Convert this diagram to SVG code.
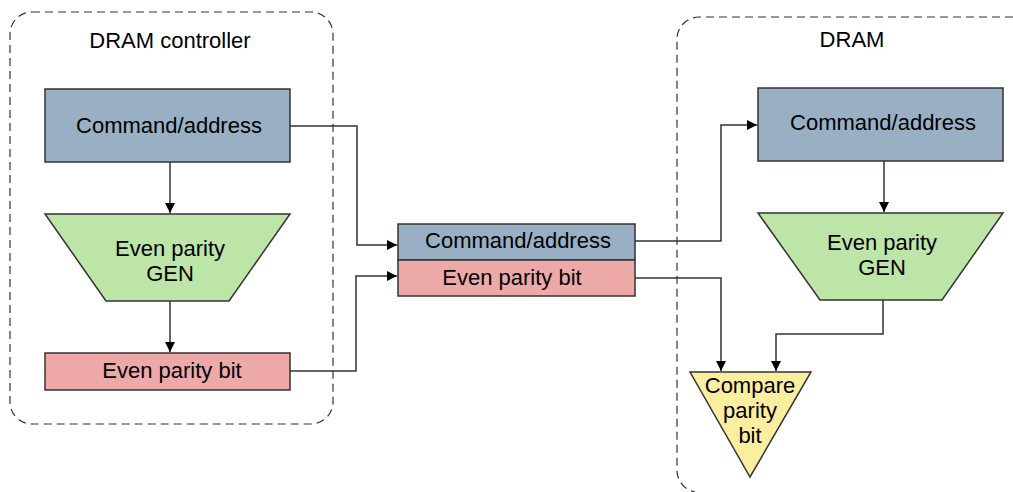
<svg xmlns="http://www.w3.org/2000/svg" width="1013" height="492" viewBox="0 0 1013 492">
<defs>
<marker id="arr" viewBox="0 0 10 10" refX="10" refY="5" markerWidth="10" markerHeight="10" markerUnits="userSpaceOnUse" orient="auto">
<path d="M0,0 L10,5 L0,10 Z" fill="#000"/>
</marker>
</defs>
<style>
text{font-family:"Liberation Sans",Arial,sans-serif;font-size:22px;fill:#000;text-anchor:middle}
.box{stroke:#333;stroke-width:1.5}
.ca{fill:#98afc4}
.gen{fill:#bde5a8}
.pb{fill:#eda9a8}
.cmp{fill:#fbee9f}
.grp{fill:none;stroke:#333;stroke-width:1.2;stroke-dasharray:8 5}
.conn path{fill:none;stroke:#333;stroke-width:1.5}
</style>
<rect id="controller" class="grp" x="10" y="12" width="323" height="412" rx="22"/>
<text x="170" y="48">DRAM controller</text>
<path id="dram" class="grp" d="M1013,17 H699 A22,22 0 0 0 677,39 V470 A22,22 0 0 0 695,492"/>
<text x="852" y="47">DRAM</text>

<g id="ctl-ca"><rect class="box ca" x="45" y="89" width="245" height="73"/><text x="169" y="133">Command/address</text></g>
<g id="ctl-gen"><polygon class="box gen" points="45,214 290,214 229,301 106,301"/><text x="170" y="256">Even parity</text><text x="170" y="281">GEN</text></g>
<g id="ctl-pb"><rect class="box pb" x="45" y="353" width="245" height="37"/><text x="172" y="378">Even parity bit</text></g>

<g id="bus-ca"><rect class="box ca" x="398" y="224" width="237" height="36"/><text x="518" y="248">Command/address</text></g>
<g id="bus-pb"><rect class="box pb" x="398" y="260" width="237" height="36"/><text x="512" y="285">Even parity bit</text></g>

<g id="dram-ca"><rect class="box ca" x="758" y="88" width="245" height="73"/><text x="883" y="130">Command/address</text></g>
<g id="dram-gen"><polygon class="box gen" points="758,213 1003,213 942,300 820,300"/><text x="882" y="250">Even parity</text><text x="882" y="275">GEN</text></g>
<g id="compare"><polygon class="box cmp" points="690,372 811,372 750,477"/><text x="750" y="393">Compare</text><text x="750" y="418">parity</text><text x="750" y="443">bit</text></g>

<g class="conn" id="connectors">
<path d="M170,162 V213" marker-end="url(#arr)"/>
<path d="M170,301 V352" marker-end="url(#arr)"/>
<path d="M290,126 H357 V245 H397" marker-end="url(#arr)"/>
<path d="M290,371 H356 V276 H397" marker-end="url(#arr)"/>
<path d="M635,241 H721 V125 H757" marker-end="url(#arr)"/>
<path d="M635,278 H721 V371" marker-end="url(#arr)"/>
<path d="M884,161 V212" marker-end="url(#arr)"/>
<path d="M883,300 V334 H776 V371" marker-end="url(#arr)"/>
</g>
</svg>
